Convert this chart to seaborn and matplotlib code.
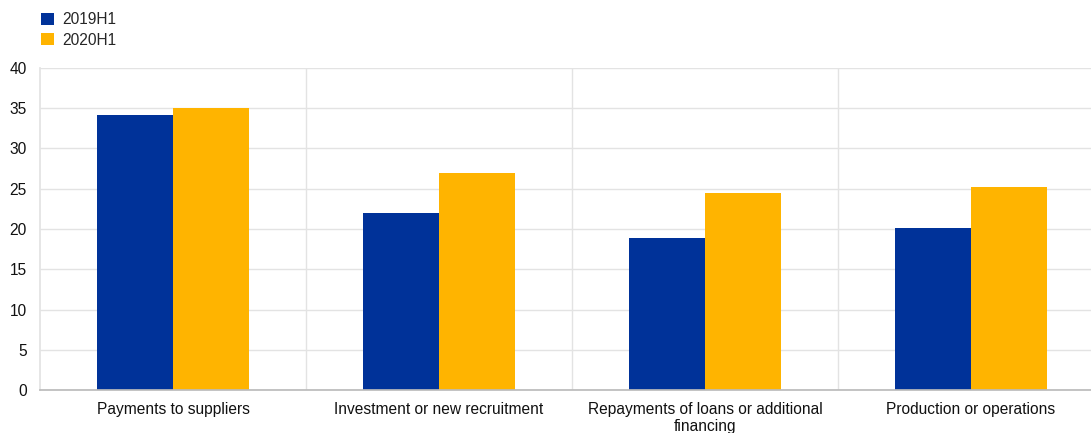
import matplotlib
matplotlib.use("Agg")
import matplotlib.pyplot as plt
import seaborn as sns
import pandas as pd
from matplotlib.patches import Patch

categories = ["Payments to suppliers", "Investment or new recruitment",
              "Repayments of loans or additional\nfinancing", "Production or operations"]
series_names = ["2019H1", "2020H1"]
values_2019 = [34.2, 22.0, 18.9, 20.1]
values_2020 = [35.0, 27.0, 24.5, 25.2]
colors = ["#003299", "#FFB400"]
yticks = [0, 5, 10, 15, 20, 25, 30, 35, 40]

rows = []
for c, a, b in zip(categories, values_2019, values_2020):
    rows.append({"category": c, "period": series_names[0], "value": a})
    rows.append({"category": c, "period": series_names[1], "value": b})
df = pd.DataFrame(rows)

sns.set_theme(style="white")
plt.rcParams['font.family'] = ['Liberation Sans', 'DejaVu Sans']

fig = plt.figure(figsize=(10.91, 4.33), dpi=100)
W, H = 1091, 433
ax = fig.add_axes([40 / W, (H - 390) / H, 1064 / W, (390 - 68) / H])

sns.barplot(data=df, x="category", y="value", hue="period", order=categories,
            hue_order=series_names, palette=colors, width=0.57, ax=ax,
            saturation=1, errorbar=None, legend=False, linewidth=0)

FS = 11.2
ax.set_xlim(-0.5, 3.5)
ax.set_ylim(0, 40)
ax.set_yticks(yticks)
ax.set_yticklabels([str(t) for t in yticks], fontsize=FS, color="#111111")
ax.set_xticks(range(len(categories)))
ax.set_xticklabels(categories, fontsize=FS, color="#111111", linespacing=1.15)
ax.set_xticks([0.5, 1.5, 2.5], minor=True)
ax.tick_params(axis="both", which="both", length=0)
ax.tick_params(axis="x", pad=8.5)
ax.tick_params(axis="y", pad=9.5)
ax.set_xlabel("")
ax.set_ylabel("")
ax.grid(axis="y", which="major", color="#e3e3e3", linewidth=1)
ax.grid(axis="x", which="minor", color="#e3e3e3", linewidth=1)
ax.set_axisbelow(True)
for s in ["top", "right"]:
    ax.spines[s].set_visible(False)
ax.spines["left"].set_color("#e3e3e3")
ax.spines["bottom"].set_color("#bbbbbb")

handles = [Patch(facecolor=c, edgecolor="none") for c in colors]
fig.legend(handles, series_names, loc="upper left", bbox_to_anchor=(35 / W, 1 - 6 / H),
           frameon=False, fontsize=FS, handlelength=0.84, handleheight=0.84,
           handletextpad=0.52, labelspacing=0.35, borderaxespad=0)

fig.savefig("out.png", dpi=100)
